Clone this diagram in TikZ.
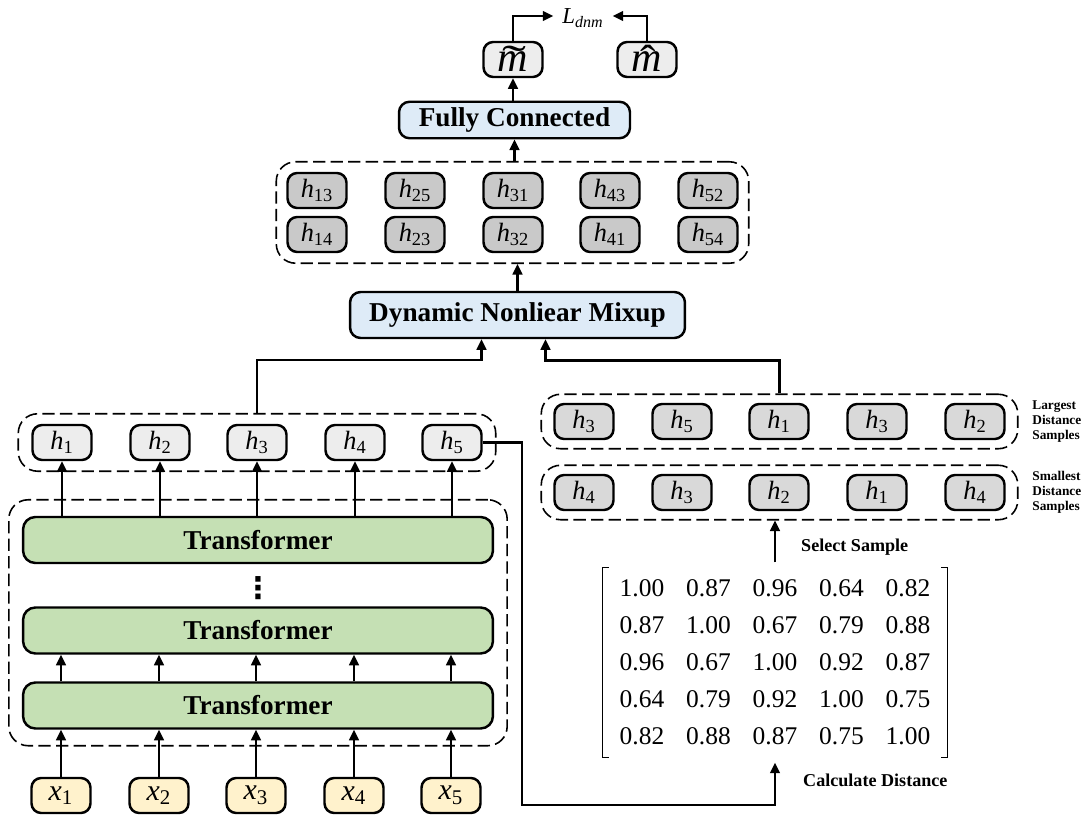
\documentclass[tikz,border=0pt]{standalone}
\usepackage{fontspec}
\setmainfont{Liberation Serif}
\newfontfamily\dotsfont{DejaVu Sans}
\usepackage{graphicx}
\usepackage{tikz}
\usetikzlibrary{arrows.meta,positioning,fit,matrix}
\usepackage{xcolor}
\definecolor{mixblue}{HTML}{DEEBF7}
\definecolor{transgreen}{HTML}{C5E0B4}
\definecolor{inyellow}{HTML}{FFF2CC}
\definecolor{hlight}{HTML}{EDEDED}
\definecolor{hdark}{HTML}{C9C9C9}
\definecolor{hmid}{HTML}{D9D9D9}
\newcommand{\hsub}[1]{\textit{h}\textsubscript{#1}}
\newcommand{\xsub}[1]{\textit{x}\textsubscript{#1}}
\newcommand{\accm}[2]{\mbox{\ooalign{\textit{m}\cr\hidewidth\kern0.08em\raisebox{-0.07em}{\scalebox{#2}[1]{\symbol{#1}}}\hidewidth\cr}}}

\begin{document}
\begin{tikzpicture}[
    x=0.02cm, y=-0.02cm,
    block/.style={draw, line width=1.4pt, rounded corners=6pt, fill=mixblue, minimum height=0.68cm, font=\fontsize{15.5}{16}\selectfont\bfseries},
    transblock/.style={draw, line width=1.4pt, rounded corners=7pt, fill=transgreen, minimum width=9.4cm, minimum height=0.92cm, font=\fontsize{15.5}{16}\selectfont\bfseries},
    tok/.style={draw, line width=1.4pt, rounded corners=5.5pt, minimum width=1.18cm, minimum height=0.7cm, inner sep=0pt, font=\fontsize{15}{15}\selectfont},
    outtok/.style={tok, fill=hlight, text height=14pt, text depth=0pt, font=\fontsize{24}{24}\selectfont},
    group/.style={draw, dash pattern=on 7pt off 3pt, line width=0.9pt, rounded corners=11pt},
    flow/.style={-{Triangle[length=6pt,width=5.5pt]}, line width=1.3pt},
    bracket/.style={line width=0.7pt},
    side/.style={font=\fontsize{10.3}{11}\selectfont\bfseries, anchor=west},
    note/.style={anchor=west, align=left, inner sep=0pt, font=\fontsize{7.6}{8.6}\selectfont\bfseries}
]
\useasboundingbox (0,0) rectangle (1085,820);

% output and loss
\node[outtok] (mt) at (513,59.5) {\accm{"02DC}{1.7}};
\node[outtok] (mh) at (647,59.5) {\accm{"02C6}{1.1}};
\node[font=\fontsize{13}{13}\selectfont, inner xsep=5pt, text depth=0pt] (loss) at (583,16) {\textit{L}\textsubscript{\textit{dnm}}};
\node[block, minimum width=4.62cm] (fc) at (514.5,120) {Fully Connected};

% mixed samples
\node[tok, fill=hdark] (h13) at (317,190.5) {\hsub{13}};
\node[tok, fill=hdark] (h25) at (415,190.5) {\hsub{25}};
\node[tok, fill=hdark] (h31) at (513,190.5) {\hsub{31}};
\node[tok, fill=hdark] (h43) at (610,190.5) {\hsub{43}};
\node[tok, fill=hdark] (h52) at (708,190.5) {\hsub{52}};
\node[tok, fill=hdark] (h14) at (317,234.5) {\hsub{14}};
\node[tok, fill=hdark] (h23) at (415,234.5) {\hsub{23}};
\node[tok, fill=hdark] (h32) at (513,234.5) {\hsub{32}};
\node[tok, fill=hdark] (h41) at (610,234.5) {\hsub{41}};
\node[tok, fill=hdark] (h54) at (708,234.5) {\hsub{54}};
\node[group, fit=(h13)(h54), inner xsep=0.2cm, inner ysep=0.2cm] (mixgrp) {};
\node[block, minimum width=6.7cm, minimum height=0.92cm] (dnm) at (517.5,315) {Dynamic Nonliear Mixup};

% encoder
\node[tok, fill=hlight] (h1) at (62,442.5) {\hsub{1}};
\node[tok, fill=hlight] (h2) at (160,442.5) {\hsub{2}};
\node[tok, fill=hlight] (h3) at (257,442.5) {\hsub{3}};
\node[tok, fill=hlight] (h4) at (355,442.5) {\hsub{4}};
\node[tok, fill=hlight] (h5) at (452,442.5) {\hsub{5}};
\node[group, fit=(h1)(h5), inner xsep=0.26cm, inner ysep=0.2cm] (hgrp) {};
\node[transblock] (t1) at (258,540) {Transformer};
\node[font=\fontsize{17}{17}\selectfont\dotsfont\bfseries] (dots) at (258,588) {⋮};
\node[transblock] (t2) at (258,630.5) {Transformer};
\node[transblock] (t3) at (258,705.5) {Transformer};
\node[group, fit=(t1)(t3), inner xsep=0.26cm, inner ysep=0.32cm] (tgrp) {};
\node[tok, fill=inyellow, font=\fontsize{17}{17}\selectfont] (x1) at (61,795.5) {\xsub{1}};
\node[tok, fill=inyellow, font=\fontsize{17}{17}\selectfont] (x2) at (159,795.5) {\xsub{2}};
\node[tok, fill=inyellow, font=\fontsize{17}{17}\selectfont] (x3) at (256,795.5) {\xsub{3}};
\node[tok, fill=inyellow, font=\fontsize{17}{17}\selectfont] (x4) at (354,795.5) {\xsub{4}};
\node[tok, fill=inyellow, font=\fontsize{17}{17}\selectfont] (x5) at (451,795.5) {\xsub{5}};

% selected samples
\node[tok, fill=hmid] (l1) at (584,421.5) {\hsub{3}};
\node[tok, fill=hmid] (l2) at (682,421.5) {\hsub{5}};
\node[tok, fill=hmid] (l3) at (779,421.5) {\hsub{1}};
\node[tok, fill=hmid] (l4) at (877,421.5) {\hsub{3}};
\node[tok, fill=hmid] (l5) at (975,421.5) {\hsub{2}};
\node[group, fit=(l1)(l5), inner xsep=0.24cm, inner ysep=0.17cm] (lgrp) {};
\node[tok, fill=hmid] (s1) at (584,492.5) {\hsub{4}};
\node[tok, fill=hmid] (s2) at (682,492.5) {\hsub{3}};
\node[tok, fill=hmid] (s3) at (779,492.5) {\hsub{2}};
\node[tok, fill=hmid] (s4) at (877,492.5) {\hsub{1}};
\node[tok, fill=hmid] (s5) at (975,492.5) {\hsub{4}};
\node[group, fit=(s1)(s5), inner xsep=0.24cm, inner ysep=0.17cm] (sgrp) {};
\node[note] (llab) at (1032,421.5) {Largest\\Distance\\Samples};
\node[note] (slab) at (1032,492.5) {Smallest\\Distance\\Samples};

% distance matrix
\matrix (dist) at (775,662.5) [matrix of nodes, column sep=0.33cm, row sep=0.14cm,
    nodes={minimum width=1cm, minimum height=0.6cm, inner sep=0pt, font=\fontsize{14.5}{14.5}\selectfont}] {
1.00 & 0.87 & 0.96 & 0.64 & 0.82 \\
0.87 & 1.00 & 0.67 & 0.79 & 0.88 \\
0.96 & 0.67 & 1.00 & 0.92 & 0.87 \\
0.64 & 0.79 & 0.92 & 1.00 & 0.75 \\
0.82 & 0.88 & 0.87 & 0.75 & 1.00 \\
};
\draw[bracket] ([xshift=-0.04cm]dist.north west) -- ++(-6,0) |- ([xshift=-0.04cm]dist.south west);
\draw[bracket] ([xshift=0.04cm]dist.north east) -- ++(6,0) |- ([xshift=0.04cm]dist.south east);
\node[side] (selab) at (795,547) {Select Sample};
\node[side] (calab) at (797,780) {Calculate Distance};
\coordinate (turn) at (522,805);

\foreach \i in {1,...,5} {
  \draw[flow] (x\i.north) -- (x\i.north |- t3.south);
  \draw[flow] (x\i.north |- t3.north) -- (x\i.north |- t2.south);
  \draw[flow] (h\i.south |- t1.north) -- (h\i.south);
}
\draw[flow] (hgrp.north) -- ++(0,-53) -| ([xshift=-0.72cm]dnm.south);
\draw[flow] (lgrp.north) -- ++(0,-33) -| ([xshift=0.56cm]dnm.south);
\draw[flow] (dnm.north) -- (dnm.north |- mixgrp.south);
\draw[flow] (fc.south |- mixgrp.north) -- (fc.south);
\draw[flow] (mt.south |- fc.north) -- (mt.south);
\draw[flow] (mt.north) |- (loss.west);
\draw[flow] (mh.north) |- (loss.east);
\draw[flow] ([yshift=0.1cm]dist.north) -- (dist.north |- sgrp.south);
\draw[flow] (h5.east) -| (turn) -| ([yshift=-0.1cm]dist.south);
\end{tikzpicture}
\end{document}
